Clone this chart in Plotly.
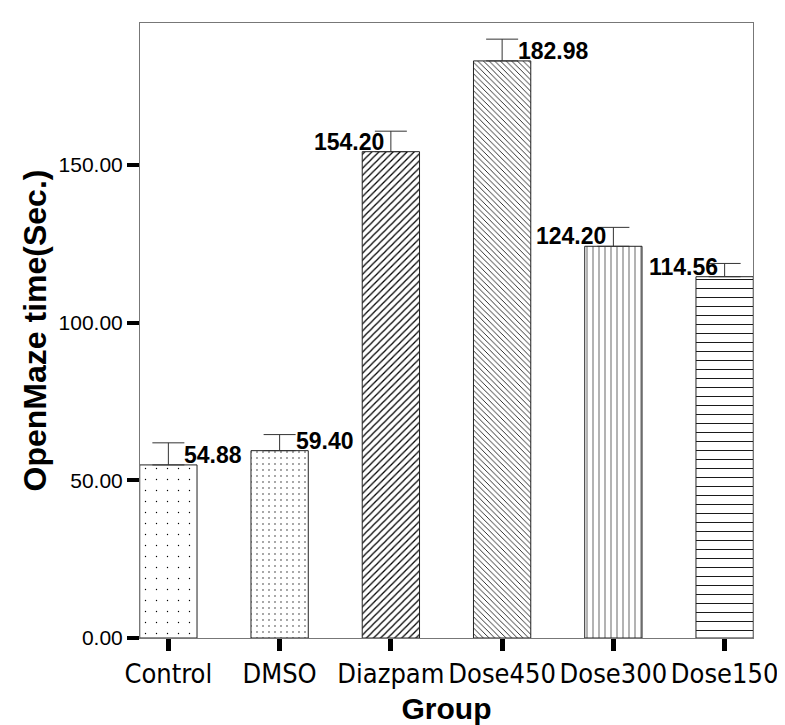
import plotly.graph_objects as go

groups = ["Control", "DMSO", "Diazpam", "Dose450", "Dose300", "Dose150"]
means = [54.88, 59.40, 154.20, 182.98, 124.20, 114.56]
errors = [7.0, 5.1, 6.5, 6.9, 6.0, 4.2]
y_ticks = [0, 50, 100, 150]

# styling (not data)
patterns = [".", ".", "/", "\\", "|", "-"]
pattern_sizes = [11, 6, 5, 4, 6, 9]
pattern_solid = [0.012, 0.035, 0.25, 0.2, 0.1, 0.1]
label_side = ["right", "right", "left", "right", "left", "left"]

fig = go.Figure(
    go.Bar(
        x=groups,
        y=means,
        width=0.515,
        marker=dict(
            color="white",
            line=dict(color="#222222", width=1),
            pattern=dict(shape=patterns, size=pattern_sizes, solidity=pattern_solid,
                         fgcolor="black", bgcolor="white", fillmode="replace"),
        ),
        error_y=dict(type="data", array=errors, arrayminus=[0] * len(errors),
                     symmetric=False, color="#333333", thickness=1, width=16),
        showlegend=False,
    )
)

for i, (g, v) in enumerate(zip(groups, means)):
    right = label_side[i] == "right"
    fig.add_annotation(
        x=i, y=v, xref="x", yref="y",
        text=f"{v:.2f}",
        showarrow=False,
        xanchor="left" if right else "right",
        yanchor="middle",
        xshift=15 if right else -6,
        yshift=10,
        bgcolor="rgba(255,255,255,0)",
        borderpad=0,
        font=dict(family="Liberation Sans, Arial", size=23, color="black", weight="bold"),
    )

fig.update_layout(
    width=785, height=725,
    margin=dict(l=132, r=40, t=15, b=95),
    plot_bgcolor="white", paper_bgcolor="white",
    xaxis=dict(
        type="category", range=[-0.255, 5.255],
        showline=True, linecolor="#777777", linewidth=1, mirror=True,
        ticks="outside", ticklen=12, tickwidth=5, tickcolor="black",
        tickfont=dict(family="DejaVu Sans Condensed", size=27, color="black"),
        showgrid=False,
        title=dict(text="Group", standoff=9,
                   font=dict(family="Liberation Sans, Arial", size=30, color="black", weight="bold")),
    ),
    yaxis=dict(
        range=[0, 195], tickvals=y_ticks, tickformat=".2f",
        showline=True, linecolor="#777777", linewidth=1, mirror=True,
        ticks="outside", ticklen=12, tickwidth=4, tickcolor="black",
        tickfont=dict(family="Liberation Sans, Arial", size=21, color="black"),
        showgrid=False, zeroline=False,
        title=dict(text="OpenMaze time(Sec.)", standoff=2,
                   font=dict(family="Liberation Sans, Arial", size=32, color="black", weight="bold")),
    ),
)

fig.write_html("out.html")
